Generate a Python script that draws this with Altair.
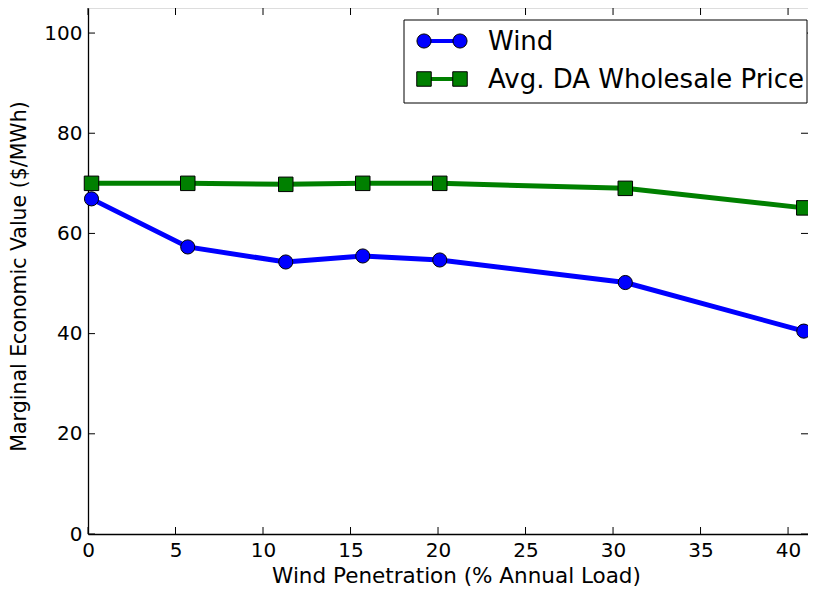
import altair as alt
import pandas as pd

# ---- data ----
penetration = [0.2, 5.7, 11.3, 15.7, 20.1, 30.7, 40.9]
wind_value = [66.9, 57.3, 54.3, 55.5, 54.7, 50.2, 40.5]
da_price = [70.0, 70.0, 69.8, 70.0, 70.0, 69.0, 65.1]
series_names = ["Wind", "Avg. DA Wholesale Price"]
series_colors = ["#0000ff", "#008000"]
series_shapes = ["circle", "square"]
x_ticks = [0, 5, 10, 15, 20, 25, 30, 35, 40]
y_ticks = [0, 20, 40, 60, 80, 100]
x_title = "Wind Penetration (% Annual Load)"
y_title = "Marginal Economic Value ($/MWh)"

W, H = 720, 526
FONT = "DejaVu Sans"
TICK = 7
SIZES = {"circle": 200, "square": 210}

df = pd.DataFrame({
    "pen": penetration * 2,
    "val": wind_value + da_price,
    "series": [series_names[0]] * len(penetration) + [series_names[1]] * len(penetration),
})
xt_df = pd.DataFrame({"pen": x_ticks})
yt_df = pd.DataFrame({"val": y_ticks})
one = pd.DataFrame({"k": [0]})

xs = alt.Scale(domain=[0, 41.14], nice=False, zero=False)
ys = alt.Scale(domain=[0, 105], nice=False)

x_axis = alt.Axis(values=x_ticks, title=x_title, ticks=False, domain=True, domainColor="black",
                  domainWidth=1.3, grid=False,
                  labelFont=FONT, labelFontSize=20, labelColor="black", labelPadding=6,
                  titleFont=FONT, titleFontSize=21.5, titleFontWeight="normal", titleColor="black",
                  titleBaseline="alphabetic", titleY=48, titleX=368, labelFlush=False,
                  labelOverlap=False)
y_axis = alt.Axis(values=y_ticks, title=y_title, ticks=False, domain=True, domainColor="black",
                  domainWidth=1.3, grid=False,
                  labelFont=FONT, labelFontSize=20, labelColor="black", labelPadding=6,
                  titleFont=FONT, titleFontSize=20.5, titleFontWeight="normal", titleColor="black",
                  titleBaseline="alphabetic", titleX=-63, titleY=268, titleAngle=270,
                  labelFlush=False, labelOverlap=False)

X = alt.X("pen:Q", scale=xs, axis=x_axis)
Y = alt.Y("val:Q", scale=ys, axis=y_axis)
color = alt.Color("series:N", scale=alt.Scale(domain=series_names, range=series_colors), legend=None)
fill = alt.Fill("series:N", scale=alt.Scale(domain=series_names, range=series_colors), legend=None)
shape = alt.Shape("series:N", scale=alt.Scale(domain=series_names, range=series_shapes), legend=None)

layers = []
# inward ticks (matplotlib classic style)
layers.append(alt.Chart(xt_df).mark_rule(color="black", strokeWidth=1).encode(
    x=X, y=alt.value(H), y2=alt.value(H - TICK)))
layers.append(alt.Chart(xt_df).mark_rule(color="black", strokeWidth=1).encode(
    x=X, y=alt.value(0), y2=alt.value(TICK)))
layers.append(alt.Chart(yt_df).mark_rule(color="black", strokeWidth=1).encode(
    y=Y, x=alt.value(0), x2=alt.value(TICK)))
layers.append(alt.Chart(yt_df).mark_rule(color="black", strokeWidth=1).encode(
    y=Y, x=alt.value(W), x2=alt.value(W - TICK)))

# series: line then markers, per series in order
for i, name in enumerate(series_names):
    sub = df[df["series"] == name]
    layers.append(alt.Chart(sub).mark_line(strokeWidth=5, strokeCap="butt").encode(
        x=X, y=Y, color=color))
    layers.append(alt.Chart(sub).mark_point(filled=True, opacity=1, stroke="black", strokeWidth=1,
                                            size=SIZES[series_shapes[i]]).encode(
        x=X, y=Y, fill=fill, shape=shape))

# legend box
layers.append(alt.Chart(one).mark_rect(fill="white", stroke="black", strokeWidth=1).encode(
    x=alt.value(316), x2=alt.value(719), y=alt.value(12), y2=alt.value(95)))
for i, name in enumerate(series_names):
    yy = 33 + 38 * i
    layers.append(alt.Chart(one).mark_rule(color=series_colors[i], strokeWidth=4).encode(
        x=alt.value(336), x2=alt.value(372), y=alt.value(yy)))
    for xx in (336, 372):
        layers.append(alt.Chart(one).mark_point(
            filled=True, opacity=1, fill=series_colors[i], stroke="black", strokeWidth=1,
            shape=series_shapes[i], size=SIZES[series_shapes[i]]).encode(
            x=alt.value(xx), y=alt.value(yy)))
    layers.append(alt.Chart(one).mark_text(align="left", baseline="middle", font=FONT, fontSize=26,
                                           color="black").encode(
        x=alt.value(400), y=alt.value(yy + 1), text=alt.value(name)))

chart = alt.layer(*layers).properties(
    width=W, height=H,
    autosize=alt.AutoSizeParams(type="none"),
    padding={"left": 80, "top": 0, "right": 0, "bottom": 56},
).configure_view(stroke="black", strokeWidth=1.3).configure(background="white")

chart.save("out.html", embed_options={"renderer": "svg", "actions": False})
